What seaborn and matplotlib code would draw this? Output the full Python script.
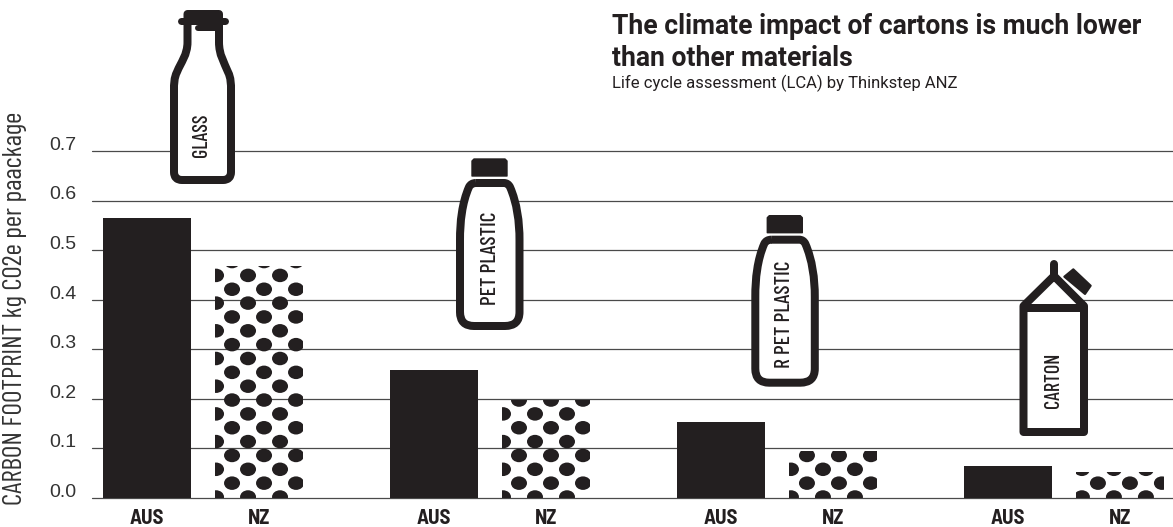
import pandas as pd
import matplotlib.pyplot as plt
import seaborn as sns
from matplotlib.patches import Ellipse, PathPatch, Polygon
from matplotlib.path import Path
from matplotlib.transforms import ScaledTranslation

materials = ['Glass', 'PET plastic', 'R PET plastic', 'Carton']
aus_values = [0.565, 0.258, 0.153, 0.065]
nz_values = [0.468, 0.198, 0.095, 0.052]
y_ticks = [0.0, 0.1, 0.2, 0.3, 0.4, 0.5, 0.6, 0.7]

df = pd.DataFrame({
    'material': materials * 2,
    'footprint': aus_values + nz_values,
    'region': ['AUS'] * 4 + ['NZ'] * 4
})

W, H = 1173, 527
DARK = '#231f20'
NARROW = ['Barlow Condensed', 'Roboto', 'DejaVu Sans']
SEMI = ['Barlow Semi Condensed', 'Roboto', 'DejaVu Sans']

sns.set_style('white')
plt.rcParams['font.family'] = ['Roboto', 'DejaVu Sans']

fig = plt.figure(figsize=(W / 100, H / 100), dpi=100, facecolor='white')
ax = fig.add_axes([92 / W, 1 - 498 / H, (W - 92) / W, 347 / H])
ax.patch.set_alpha(0)

sns.barplot(data=df, x='material', y='footprint', hue='region', hue_order=['AUS', 'NZ'],
            palette=[DARK, 'white'], width=0.78, gap=0.214, legend=False, saturation=1,
            linewidth=0, ax=ax)

ax.set_xlim(-0.387, 3.38)
ax.set_ylim(0, 0.7)
ax.set_yticks(y_ticks)
ax.set_yticklabels([f'{v:.1f}' for v in y_ticks], fontsize=14, color='#333333',
                   family=['Liberation Sans', 'DejaVu Sans'])
ax.tick_params(axis='y', length=0, pad=11)
for lab in ax.get_yticklabels():
    lab.set_transform(lab.get_transform() + ScaledTranslation(0, 5.5 / 72, fig.dpi_scale_trans))

ax.set_axisbelow(True)
ax.grid(axis='y', color='#4a4a4a', linewidth=0.9)
for line in ax.get_ygridlines():
    line.set_clip_on(False)
for spine in ax.spines.values():
    spine.set_visible(False)

aus_bars = ax.containers[0]
nz_bars = ax.containers[1]
for bar in nz_bars:
    bar.set_facecolor('none')
    bar.set_edgecolor('none')

centres = [b.get_x() + b.get_width() / 2 for pair in zip(aus_bars, nz_bars) for b in pair]
ax.set_xticks(centres)
ax.set_xticklabels(['AUS', 'NZ'] * 4, fontsize=15, fontweight='bold', color=DARK, family=SEMI)
ax.tick_params(axis='x', length=0, pad=8)
ax.set_xlabel('')
ax.set_ylabel('CARBON FOOTPRINT kg C02e per paackage', fontsize=19.7, color='#333333', family=NARROW)
ax.yaxis.set_label_coords((27 - 92) / (W - 92), (498 - 308) / 347)

# overlay in pixel coordinates for the icons and the headline
over = fig.add_axes([0, 0, 1, 1])
over.set_xlim(0, W)
over.set_ylim(H, 0)
over.axis('off')
over.patch.set_alpha(0)

# dot pattern of the NZ bars, clipped to each bar
pattern_dx = [0, 0, 1, 5]
for bar, dx in zip(nz_bars, pattern_dx):
    left = ax.transData.transform((bar.get_x(), 0))[0]
    for row in range(36):
        y = 497 - row * 13.85
        if y < 498 - bar.get_height() * 496 - 8:
            break
        start = 1 if row % 2 == 0 else 17
        for col in range(4):
            dot = Ellipse((left + dx + start + col * 32, y), 16, 13.5, color=DARK, lw=0)
            over.add_patch(dot)
            dot.set_clip_path(bar)


def px(v):
    return v * 72 / 100


def outline(verts, codes, lw=8):
    patch = PathPatch(Path(verts, codes), facecolor='white', edgecolor=DARK,
                      lw=px(lw), joinstyle='round', zorder=5)
    over.add_patch(patch)


M, L, C3, C4, Z = Path.MOVETO, Path.LINETO, Path.CURVE3, Path.CURVE4, Path.CLOSEPOLY

# glass bottle
outline([(187.5, 14), (219, 14), (219, 42), (219, 55), (224, 62), (228, 72), (231, 78), (231, 84), (231, 90),
         (231, 172), (231, 180), (223, 180), (182, 180), (174, 180), (174, 172), (174, 90), (174, 84), (174, 78),
         (177, 72), (181, 62), (187.5, 55), (187.5, 42), (187.5, 14)],
        [M, L, L, C4, C4, C4, C4, C4, C4, L, C3, C3, L, C3, C3, L, C4, C4, C4, C4, C4, C4, Z])
over.plot([181, 225], [21, 21], color=DARK, lw=px(7), solid_capstyle='round', zorder=6)
over.plot([198, 218], [28, 28], color=DARK, lw=px(6), solid_capstyle='round', zorder=6)


# plastic bottle, drawn at an offset
def plastic(dx, dy):
    pts = [(476, 183), (504, 183), (508, 183), (510, 187), (517, 203), (519.5, 222), (519.5, 240),
           (519.5, 312), (519.5, 326), (505, 326), (474, 326), (460, 326), (460, 312), (460, 240),
           (460, 222), (462, 203), (469, 187), (471, 183), (476, 183)]
    codes = [M, L, C3, C3, C4, C4, C4, L, C3, C3, L, C3, C3, L, C4, C4, C4, C3, C3]
    outline([(x + dx, y + dy) for x, y in pts], codes)
    cap = [(474 + dx, 159 + dy), (505 + dx, 159 + dy), (507 + dx, 161 + dy), (507 + dx, 176 + dy),
           (472 + dx, 176 + dy), (472 + dx, 161 + dy)]
    over.add_patch(Polygon(cap, closed=True, facecolor=DARK, edgecolor=DARK, lw=1, joinstyle='round', zorder=5))


plastic(0, 0)
plastic(295.3, 56.7)

# carton
outline([(1023.5, 306), (1054, 276), (1084, 306), (1084, 432), (1023.5, 432), (1023.5, 306)],
        [M, L, L, L, L, Z])
over.plot([1023.5, 1084], [308, 308], color=DARK, lw=px(8), zorder=6)
over.plot([1054, 1054], [264, 278], color=DARK, lw=px(8), solid_capstyle='round', zorder=6)
over.add_patch(Polygon([(1073.3, 269.3), (1090.7, 285.7), (1085, 294), (1064.3, 276.7)], closed=True,
                       facecolor=DARK, edgecolor=DARK, lw=1.5, joinstyle='round', zorder=5))

# icon labels
for label, x, y, size in [('GLASS', 202, 135, 14.5), ('PET PLASTIC', 490, 258, 15.5),
                          ('R PET PLASTIC', 785, 314, 15.5), ('CARTON', 1054, 380, 14.5)]:
    over.text(x, y, label, rotation=90, ha='center', va='center', fontsize=size, color=DARK,
              family=NARROW, fontweight='medium', zorder=7)

over.text(612, 27, 'The climate impact of cartons is much lower', fontsize=19.1, fontweight='bold',
          color=DARK, ha='left', va='center')
over.text(612, 58, 'than other materials', fontsize=19.1, fontweight='bold',
          color=DARK, ha='left', va='center')
over.text(612, 83, 'Life cycle assessment (LCA) by Thinkstep ANZ', fontsize=12, color=DARK,
          ha='left', va='center')

fig.savefig('out.png', dpi=100)
